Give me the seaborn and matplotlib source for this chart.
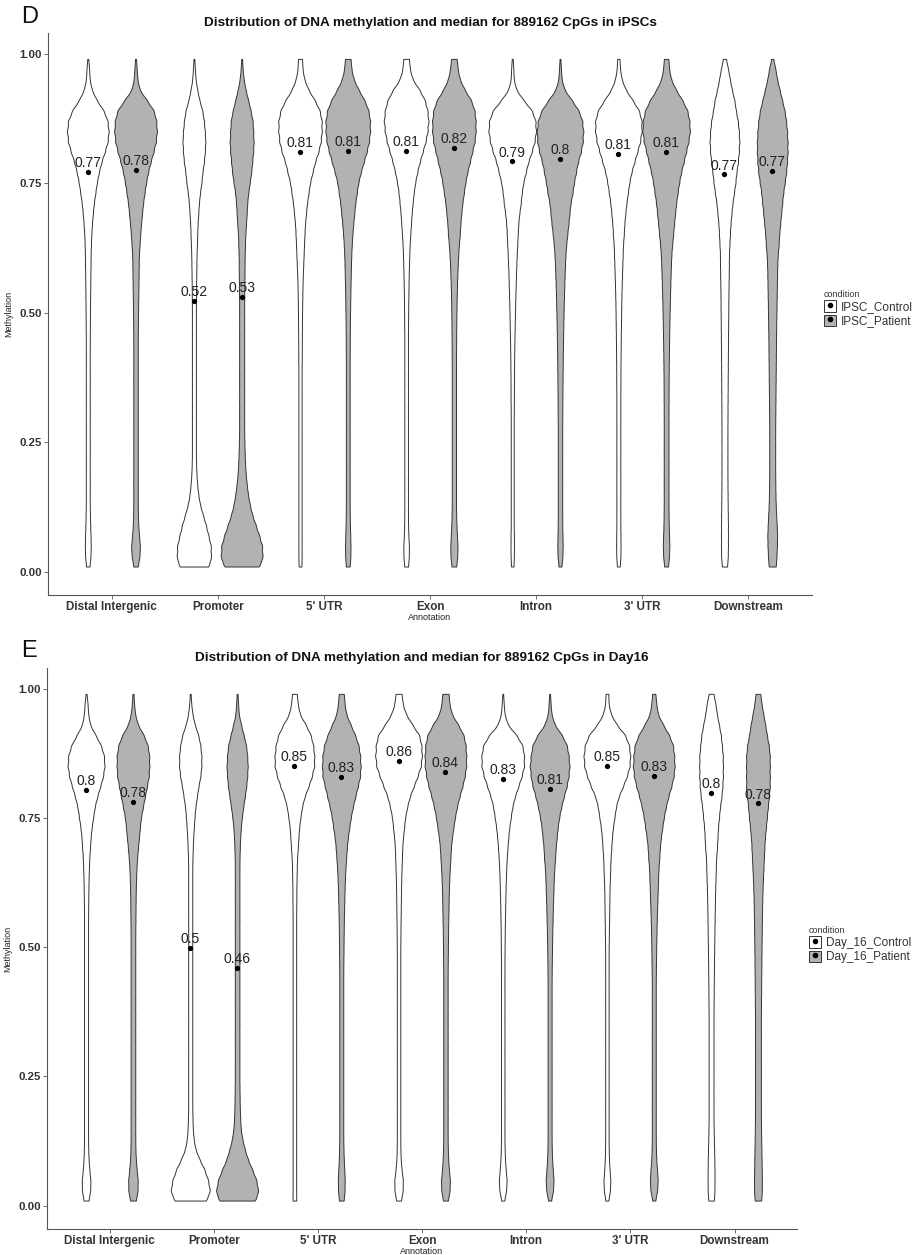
import numpy as np
import pandas as pd
import matplotlib
matplotlib.use("Agg")
import matplotlib.pyplot as plt
import seaborn as sns
from matplotlib.patches import Patch
from matplotlib.lines import Line2D
from matplotlib.legend_handler import HandlerTuple

# ---------------- data ----------------
annotations = ["Distal Intergenic", "Promoter", "5' UTR", "Exon", "Intron", "3' UTR", "Downstream"]

# methylation levels (0.01 ... 0.99, every 0.02) at which violin widths were read
levels = [0.01, 0.03, 0.05, 0.07, 0.09, 0.11, 0.13, 0.15, 0.17, 0.19,
          0.21, 0.23, 0.25, 0.27, 0.29, 0.31, 0.33, 0.35, 0.37, 0.39,
          0.41, 0.43, 0.45, 0.47, 0.49, 0.51, 0.53, 0.55, 0.57, 0.59,
          0.61, 0.63, 0.65, 0.67, 0.69, 0.71, 0.73, 0.75, 0.77, 0.79,
          0.81, 0.83, 0.85, 0.87, 0.89, 0.91, 0.93, 0.95, 0.97, 0.99]

# violin width (px) read at each level
ipsc_control_width = [
    [3.5, 5.5, 6, 5.5, 4.8, 4.3, 4, 4, 4, 4, 4, 4, 4, 4, 4, 4, 4, 4, 4, 4,
     4, 4, 4, 4.2, 4.3, 4.5, 4.7, 5, 5.2, 5.5,
     5.7, 6.3, 7, 8.3, 10, 12, 15, 18, 22, 27, 34, 40, 42, 40, 32, 18, 8, 3.7, 2.7, 1],
    [31, 34.5, 34, 29, 24, 18, 12, 8.5, 6.5, 5, 4.3, 4, 4, 4, 4, 4, 4, 4, 4, 4,
     4, 4, 4, 4, 4, 4, 4.2, 4.4, 4.7, 5,
     5.3, 6, 6.7, 7.3, 8.7, 10, 12, 15, 17, 20, 22, 23, 22, 20, 17, 11, 6.7, 3.3, 2, 0.8],
    [3, 3.3, 3.3, 3.3, 3.3, 3.3, 3.3, 3.3, 3.3, 3.3, 3.3, 3.3, 3.3, 3.3, 3.3, 3.3, 3.3, 3.3, 3.3, 3.3,
     3.5, 3.6, 3.7, 3.8, 4, 4.3, 4.6, 5, 5.6, 6.4,
     7.3, 8, 9, 10, 12, 14, 17, 20, 25, 30, 37, 42, 44, 44, 40, 30, 17, 8.7, 5, 4.3],
    [4, 5.5, 5.7, 4.5, 3.9, 3.7, 3.7, 3.7, 3.7, 3.7, 3.7, 3.7, 3.7, 3.7, 3.7, 3.7, 3.7, 3.7, 3.7, 3.7,
     3.7, 3.7, 3.7, 3.8, 4, 4.2, 4.5, 4.8, 5.2, 5.7,
     6.3, 7, 8.3, 9.7, 11, 13, 15, 18, 22, 27, 33, 39, 43, 45, 43, 38, 27, 13, 7.3, 6],
    [2.5, 3.3, 3.5, 3.4, 3, 3, 3, 3, 3, 3, 3, 3, 3, 3, 3, 3.1, 3.3, 3.4, 3.5, 3.7,
     3.9, 4.1, 4.5, 4.9, 5.3, 5.8, 6.3, 6.9, 7.5, 8.2,
     9, 10, 11, 12, 14, 17, 19, 22, 27, 32, 39, 45, 48, 47, 40, 23, 8, 3, 2.3, 1],
    [3, 4.2, 4.5, 4.3, 4, 4, 4, 4, 4, 4, 4, 4, 4, 4, 4, 4, 4, 4.1, 4.2, 4.3,
     4.5, 4.7, 4.9, 5.2, 5.5, 5.8, 6.2, 6.7, 7.3, 8,
     8.7, 9.3, 11, 12, 14, 16, 19, 22, 26, 32, 38, 44, 47, 47, 42, 29, 15, 6.7, 3.3, 2.5],
    [5.5, 6.8, 7, 7, 7, 6.8, 6.5, 6.3, 6.1, 6, 6, 6, 6, 6, 6.1, 6.2, 6.3, 6.5, 6.6, 6.8,
     6.9, 7, 7.2, 7.4, 7.6, 7.8, 8, 8.3, 8.6, 8.9,
     9, 10, 11, 12, 14, 16, 19, 22, 24, 27, 29, 30, 29, 27, 23, 20, 15, 11, 7.3, 3],
]
ipsc_patient_width = [
    [4.5, 8, 9, 7, 5.5, 4.8, 4.5, 4.5, 4.5, 4.5, 4.5, 4.5, 4.5, 4.5, 4.5, 4.5, 4.5, 4.5, 4.5, 4.5,
     4.5, 4.5, 4.5, 4.7, 5, 5.2, 5.5, 5.8, 6.1, 6.4,
     6.7, 8, 9.3, 11, 13, 15, 18, 21, 25, 30, 36, 41, 43, 42, 37, 23, 8, 3.7, 2.3, 1],
    [37, 42, 41, 35, 28, 21, 16, 12.5, 10, 8, 6.8, 6, 5.5, 5, 5, 5, 5, 5, 5, 5,
     5, 5, 5, 5, 5, 5, 5.2, 5.4, 5.6, 5.8,
     6, 6.7, 7.3, 8.7, 10, 11, 13, 16, 19, 21, 23, 24, 23, 22, 18, 13, 8, 4, 2, 0.8],
    [4, 5.3, 5.5, 5, 4.4, 4, 3.8, 3.8, 3.8, 3.8, 3.8, 3.8, 3.8, 3.8, 3.8, 3.8, 3.8, 3.8, 3.8, 3.8,
     3.8, 4, 4.1, 4.3, 4.5, 4.8, 5.1, 5.5, 6, 6.5,
     7, 8, 9.3, 11, 13, 15, 18, 21, 26, 32, 38, 43, 45, 45, 42, 34, 22, 12, 7.3, 6],
    [5, 7, 7.3, 6.3, 5.2, 4.6, 4.3, 4.3, 4.3, 4.3, 4.3, 4.3, 4.3, 4.3, 4.3, 4.3, 4.3, 4.3, 4.3, 4.3,
     4.4, 4.5, 4.6, 4.8, 5, 5.3, 5.7, 6.2, 6.9, 7.7,
     8.7, 10, 12, 13, 15, 17, 20, 23, 27, 32, 37, 42, 44, 44, 42, 35, 22, 12, 7.7, 6],
    [3, 5, 5.5, 5, 4.6, 4.5, 4.5, 4.5, 4.5, 4.5, 4.5, 4.5, 4.5, 4.5, 4.6, 4.7, 4.8, 5, 5.2, 5.4,
     5.6, 5.9, 6.2, 6.6, 7, 7.5, 8, 8.6, 9.3, 10,
     11, 12.5, 14.5, 17, 19, 21, 25, 28, 32, 36, 42, 46, 47, 45, 38, 24, 9, 3.3, 2, 0.8],
    [4, 6, 6.7, 6, 5.3, 5, 4.8, 4.8, 4.8, 4.8, 4.8, 4.8, 4.8, 4.8, 4.8, 4.8, 4.9, 5, 5.1, 5.3,
     5.5, 5.8, 6.1, 6.5, 6.9, 7.3, 7.8, 8.4, 9, 9.7,
     10.5, 12, 14, 16, 18, 20, 23, 26, 30, 35, 40, 45, 48, 47, 43, 33, 20, 10, 6, 4.7],
    [7.5, 8.5, 9.5, 10, 9, 8, 7, 6.5, 6.2, 6, 6, 6, 6, 6, 6.1, 6.3, 6.5, 6.7, 6.9, 7.1,
     7.3, 7.5, 7.7, 8, 8.3, 8.6, 9, 9.4, 9.8, 10.3,
     11, 13, 14, 16, 18, 20, 22, 25, 28, 30, 31, 31, 30, 28, 25, 20, 15, 10, 6.5, 2],
]
day16_control_width = [
    [5, 8.5, 8.7, 6.5, 5, 4.3, 4, 4, 4, 4, 4, 4, 4, 4, 4, 4, 4, 4, 4, 4,
     4, 4, 4, 4, 4, 4, 4, 4, 4.2, 4.4,
     4.7, 5, 5.7, 6.3, 7.7, 9, 11, 14, 17, 22, 28, 34, 37, 36, 30, 19, 8, 4.3, 3, 1],
    [33, 39, 35, 28, 18, 10, 6.5, 5, 4.5, 4, 4, 4, 4, 4, 4, 4, 4, 4, 4, 4,
     4, 4, 4, 4, 4, 4, 4, 4, 4, 4,
     4, 4, 4, 4.3, 5, 5.7, 7, 8.3, 10, 13, 16, 20, 22, 22, 20, 16, 9, 4.3, 2, 0.8],
    [4, 3.5, 3.5, 3.5, 3.5, 3.5, 3.5, 3.5, 3.5, 3.5, 3.5, 3.5, 3.5, 3.5, 3.5, 3.5, 3.5, 3.5, 3.5, 3.5,
     3.5, 3.5, 3.5, 3.5, 3.5, 3.5, 3.5, 3.5, 3.7, 3.9,
     4, 4.3, 4.7, 5.3, 6.7, 8, 9.3, 12, 15, 20, 28, 35, 40, 40, 38, 33, 23, 11, 6.7, 5],
    [5, 8.5, 8.7, 6, 4.3, 3.7, 3.5, 3.5, 3.5, 3.5, 3.5, 3.5, 3.5, 3.5, 3.5, 3.5, 3.5, 3.5, 3.5, 3.5,
     3.5, 3.5, 3.5, 3.5, 3.5, 3.7, 3.9, 4.1, 4.4, 4.7,
     5, 5.3, 6, 6.7, 7.3, 8.7, 11, 13, 17, 22, 30, 38, 45, 47, 46, 42, 28, 15, 8.3, 6.3],
    [3, 7, 8, 6, 4.5, 3.8, 3.5, 3.5, 3.5, 3.5, 3.5, 3.5, 3.5, 3.5, 3.5, 3.5, 3.5, 3.5, 3.5, 3.5,
     3.5, 3.5, 3.5, 3.5, 3.7, 3.9, 4.1, 4.4, 4.8, 5.2,
     5.7, 6.3, 7, 8, 9.3, 11, 13, 16, 19, 24, 31, 38, 43, 43, 40, 28, 10, 3.7, 2, 0.8],
    [3, 6.3, 7, 5.3, 4.2, 3.7, 3.5, 3.5, 3.5, 3.5, 3.5, 3.5, 3.5, 3.5, 3.5, 3.5, 3.5, 3.5, 3.5, 3.5,
     3.5, 3.5, 3.5, 3.5, 3.5, 3.8, 4.1, 4.4, 4.7, 5,
     5.3, 6, 6.7, 7.3, 8.7, 10, 12, 15, 18, 23, 32, 40, 46, 47, 45, 37, 20, 8, 3.3, 3],
    [6, 7, 7, 7, 6.7, 6.2, 5.7, 5.3, 5, 5, 5, 5, 5, 5, 5, 5, 5, 5, 5, 5.2,
     5.4, 5.6, 5.8, 6, 6.3, 6.6, 6.9, 7.2, 7.5, 7.9,
     8.3, 9, 9.7, 10, 12, 13, 14, 16, 18, 21, 23, 24, 24, 24, 22, 20, 16, 12, 9, 5],
]
day16_patient_width = [
    [6, 9.5, 9.7, 7.5, 5.8, 5, 4.7, 4.7, 4.7, 4.7, 4.7, 4.7, 4.7, 4.7, 4.7, 4.7, 4.7, 4.7, 4.7, 4.7,
     4.7, 4.7, 4.7, 4.7, 4.7, 4.7, 4.8, 5, 5.2, 5.4,
     5.7, 6.3, 7, 8.3, 10, 12, 14, 16, 20, 24, 28, 32, 33, 33, 30, 22, 10, 4.3, 2.3, 1],
    [38, 42, 38, 30, 21, 15, 10, 7, 6, 5.3, 5, 4.7, 4.5, 4.5, 4.5, 4.5, 4.5, 4.5, 4.5, 4.5,
     4.5, 4.5, 4.5, 4.5, 4.5, 4.5, 4.5, 4.5, 4.5, 4.5,
     4.5, 4.5, 4.6, 4.7, 5.3, 6, 7.3, 9.3, 12, 15, 18, 20, 21, 20, 18, 13, 8, 3.3, 2, 0.8],
    [5, 6.7, 7, 6, 5, 4.4, 4, 4, 4, 4, 4, 4, 4, 4, 4, 4, 4, 4, 4, 4,
     4, 4, 4, 4.2, 4.4, 4.6, 4.9, 5.2, 5.6, 6.1,
     6.7, 7.3, 8.3, 9.7, 11, 13, 16, 19, 23, 28, 33, 38, 39, 38, 35, 28, 19, 10, 6.7, 5.3],
    [5, 8.7, 9, 7, 5.5, 4.8, 4.5, 4.5, 4.5, 4.5, 4.5, 4.5, 4.5, 4.5, 4.5, 4.5, 4.5, 4.5, 4.5, 4.5,
     4.5, 4.5, 4.5, 4.7, 4.9, 5.1, 5.4, 5.7, 6.1, 6.5,
     7, 7.7, 8.7, 10, 11, 13, 16, 19, 23, 28, 34, 39, 42, 42, 41, 37, 26, 13, 8, 6.7],
    [3, 7, 8, 6.3, 5, 4.3, 4, 4, 4, 4, 4, 4, 4, 4, 4, 4, 4, 4, 4, 4,
     4, 4, 4.2, 4.4, 4.7, 5, 5.4, 5.9, 6.4, 7,
     7.7, 8.3, 9.3, 11, 12, 14, 16, 19, 23, 28, 34, 38, 40, 38, 35, 25, 10, 3.7, 2, 0.8],
    [3, 7, 8, 6.5, 5, 4.3, 4, 4, 4, 4, 4, 4, 4, 4, 4, 4, 4, 4, 4, 4,
     4, 4, 4.2, 4.5, 4.8, 5.1, 5.5, 6, 6.6, 7.3,
     8, 8.7, 9.3, 11, 12, 14, 17, 20, 24, 29, 35, 40, 42, 41, 39, 31, 19, 8.3, 5, 3.3],
    [7, 8, 8, 7.7, 7.3, 7, 6.6, 6.3, 6, 6, 6, 6, 6, 6, 6, 6, 6, 6, 6, 6.2,
     6.4, 6.6, 6.8, 7, 7.2, 7.4, 7.7, 8, 8.3, 8.7,
     9.3, 10, 11, 12, 13, 14, 16, 18, 20, 22, 24, 24, 24, 24, 22, 18, 15, 11, 7.3, 5],
]

# medians (labelled points)
ipsc_control_median = [0.772, 0.523, 0.810, 0.813, 0.792, 0.807, 0.767]
ipsc_patient_median = [0.776, 0.531, 0.812, 0.818, 0.797, 0.810, 0.773]
day16_control_median = [0.804, 0.499, 0.850, 0.860, 0.826, 0.850, 0.798]
day16_patient_median = [0.781, 0.460, 0.829, 0.839, 0.806, 0.831, 0.778]

# ---------------- style ----------------
GRAY = "#b1b2b4"
EDGE = "#333333"
sns.set_theme(style="white")
plt.rcParams["font.family"] = ["Liberation Sans", "DejaVu Sans"]


def bw_fixed(kde):
    # fixed kernel bandwidth of 0.01 methylation units
    return 0.01 / np.std(kde.dataset)


def build(ctrl_w, pat_w, ctrl_name, pat_name):
    """Expand the read widths into observations.  The number of observations of each
    violin is made proportional to its widest point, so that seaborn's 'count'
    normalisation reproduces the read widths on one common scale."""
    parts = []
    for a, cw, pw in zip(annotations, ctrl_w, pat_w):
        for cond, w in ((ctrl_name, cw), (pat_name, pw)):
            w = np.asarray(w, dtype=float)
            assert len(w) == len(levels), (a, cond, len(w))
            counts = np.round(w / w.sum() * w.max() * 200).astype(int)
            vals = np.repeat(levels, counts)
            parts.append(pd.DataFrame({"Annotation": a, "condition": cond, "Methylation": vals}))
    return pd.concat(parts, ignore_index=True)


def draw(ax, df, ctrl_name, pat_name, ctrl_med, pat_med, title):
    hue_order = [ctrl_name, pat_name]
    sns.violinplot(data=df, x="Annotation", y="Methylation", hue="condition",
                   order=annotations, hue_order=hue_order,
                   palette={ctrl_name: "white", pat_name: GRAY}, saturation=1,
                   inner=None, cut=0, density_norm="count", common_norm=True,
                   width=0.9, linewidth=0.7, linecolor=EDGE, bw_method=bw_fixed,
                   gridsize=400, legend=False, ax=ax)
    med = pd.DataFrame({"Annotation": annotations * 2,
                        "condition": [ctrl_name] * 7 + [pat_name] * 7,
                        "Methylation": list(ctrl_med) + list(pat_med)})
    n0 = len(ax.lines)
    sns.pointplot(data=med, x="Annotation", y="Methylation", hue="condition",
                  order=annotations, hue_order=hue_order,
                  palette={ctrl_name: "black", pat_name: "black"},
                  dodge=0.45, linestyle="none", markers="o", markersize=3.8,
                  markeredgewidth=0, errorbar=None, legend=False, ax=ax)
    for line in ax.lines[n0:]:
        for x, y in zip(line.get_xdata(), line.get_ydata()):
            ax.annotate(f"{round(float(y), 2):g}", (x, y), xytext=(0, 3.5),
                        textcoords="offset points", ha="center", va="baseline",
                        fontsize=10, color="#222222")
    ax.set_xlim(-0.6, 6.6)
    ax.set_ylim(-0.045, 1.04)
    ax.set_yticks([0, 0.25, 0.5, 0.75, 1.0])
    ax.set_yticklabels(["0.00", "0.25", "0.50", "0.75", "1.00"])
    ax.set_title(title, fontsize=9.7, fontweight="bold", color="#111111", pad=5)
    ax.set_xlabel("Annotation", fontsize=6.5, color="#222222", labelpad=0)
    ax.set_ylabel("Methylation", fontsize=6.5, color="#222222", labelpad=4)
    sns.despine(ax=ax)
    for s in ("left", "bottom"):
        ax.spines[s].set_color("#555555")
        ax.spines[s].set_linewidth(0.8)
    ax.tick_params(axis="both", which="both", length=3, width=0.6, color="#555555",
                   left=True, bottom=True)
    ax.tick_params(axis="y", labelsize=8.2, labelcolor="#333333", pad=1.5)
    ax.tick_params(axis="x", labelsize=8.4, labelcolor="#333333", pad=1.5)
    for t in ax.get_xticklabels() + ax.get_yticklabels():
        t.set_fontweight("bold")


def legend(fig, ctrl_name, pat_name, anchor):
    handles = [
        (Patch(facecolor="white", edgecolor=EDGE, linewidth=0.7),
         Line2D([], [], marker="o", color="black", linestyle="none", markersize=3)),
        (Patch(facecolor=GRAY, edgecolor=EDGE, linewidth=0.7),
         Line2D([], [], marker="o", color="black", linestyle="none", markersize=3)),
    ]
    lg = fig.legend(handles, [ctrl_name, pat_name],
                    handler_map={tuple: HandlerTuple(ndivide=1, pad=0)},
                    title="condition", loc="upper left", bbox_to_anchor=anchor,
                    frameon=False, fontsize=8.5, title_fontsize=6.5,
                    handlelength=1.0, handleheight=1.1, handletextpad=0.45,
                    labelspacing=0.12, borderaxespad=0, borderpad=0,
                    alignment="left")
    for t in lg.get_texts():
        t.set_color("#333333")
    lg.get_title().set_color("#333333")


W, H = 921, 1255
fig = plt.figure(figsize=(W / 100, H / 100), dpi=100)
fig.patch.set_facecolor("white")

ax1 = fig.add_axes([48 / W, 1 - 595 / H, 764 / W, 562 / H])
ax2 = fig.add_axes([47 / W, 1 - 1229 / H, 750 / W, 561 / H])

df1 = build(ipsc_control_width, ipsc_patient_width, "IPSC_Control", "IPSC_Patient")
df2 = build(day16_control_width, day16_patient_width, "Day_16_Control", "Day_16_Patient")

draw(ax1, df1, "IPSC_Control", "IPSC_Patient", ipsc_control_median, ipsc_patient_median,
     "Distribution of DNA methylation and median for 889162 CpGs in iPSCs")
draw(ax2, df2, "Day_16_Control", "Day_16_Patient", day16_control_median, day16_patient_median,
     "Distribution of DNA methylation and median for 889162 CpGs in Day16")

legend(fig, "IPSC_Control", "IPSC_Patient", (824 / W, 1 - 290 / H))
legend(fig, "Day_16_Control", "Day_16_Patient", (809 / W, 1 - 926 / H))

fig.text(21 / W, 1 - 6 / H, "D", fontsize=17, va="top", ha="left", color="#111111")
fig.text(21 / W, 1 - 640 / H, "E", fontsize=17, va="top", ha="left", color="#111111")

fig.savefig("out.png", dpi=100, facecolor="white")
